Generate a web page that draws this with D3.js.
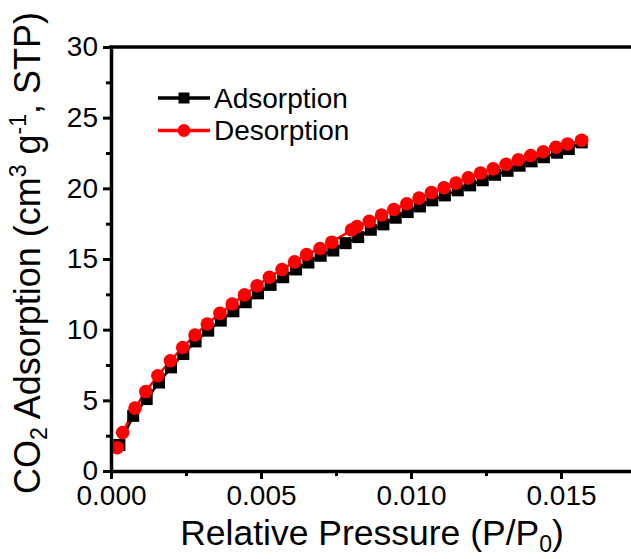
<!DOCTYPE html>
<html>
<head>
<meta charset="utf-8">
<script src="https://cdn.jsdelivr.net/npm/d3@7"></script>
<style>
  body { margin: 0; background: #fff; }
  svg text { font-family: "Liberation Sans", Arial, sans-serif; fill: #000; }
</style>
</head>
<body>
<svg id="chart" width="631" height="559"></svg>
<script>
// adsorption branch (black squares)
var pressureAds = [0.00028, 0.00074, 0.00119, 0.0016, 0.0020, 0.00241, 0.00282, 0.00324, 0.00366, 0.00408,
  0.00449, 0.0049, 0.00532, 0.00574, 0.00617, 0.00658, 0.00699, 0.00741, 0.00782, 0.00824,
  0.00866, 0.00908, 0.00949, 0.00989, 0.0103, 0.01071, 0.01113, 0.01156, 0.01197, 0.01239,
  0.0128, 0.01322, 0.01362, 0.01402, 0.01443, 0.01487, 0.01526, 0.01569];
var uptakeAds = [1.84, 3.90, 5.09, 6.26, 7.33, 8.28, 9.17, 9.93, 10.64, 11.30,
  11.94, 12.57, 13.17, 13.71, 14.26, 14.75, 15.23, 15.60, 16.12, 16.55,
  17.07, 17.45, 17.92, 18.32, 18.72, 19.15, 19.50, 19.86, 20.21, 20.57,
  20.96, 21.24, 21.60, 21.91, 22.20, 22.52, 22.78, 23.25];

// desorption branch (red circles)
var pressureDes = [0.00021, 0.00039, 0.0008, 0.00116, 0.00156, 0.00198, 0.00239, 0.0028, 0.00321, 0.00363,
  0.00404, 0.00445, 0.00487, 0.00528, 0.0057, 0.00612, 0.00652, 0.00697, 0.00736, 0.00802,
  0.0082, 0.00861, 0.00902, 0.00943, 0.00986, 0.01027, 0.01068, 0.0111, 0.0115, 0.01191,
  0.01232, 0.01274, 0.01317, 0.01358, 0.01399, 0.01441, 0.01483, 0.01522, 0.01569];
var uptakeDes = [1.65, 2.72, 4.45, 5.62, 6.74, 7.80, 8.74, 9.62, 10.40, 11.15,
  11.82, 12.46, 13.11, 13.71, 14.26, 14.80, 15.32, 15.74, 16.19, 17.06,
  17.30, 17.66, 18.11, 18.50, 18.91, 19.31, 19.70, 20.04, 20.37, 20.74,
  21.08, 21.38, 21.70, 22.02, 22.32, 22.59, 22.91, 23.14, 23.40];

var xMajor = [0, 0.005, 0.010, 0.015];
var xMinor = [0.0025, 0.0075, 0.0125, 0.0175];
var yMajor = [0, 5, 10, 15, 20, 25, 30];
var yMinor = [2.5, 7.5, 12.5, 17.5, 22.5, 27.5];

var seriesNames = ["Adsorption", "Desorption"];

var plotLeft = 111, plotTop = 47, plotBottom = 471, plotRight = 636;

var x = d3.scaleLinear().domain([0, 0.0175]).range([plotLeft, plotRight]);
var y = d3.scaleLinear().domain([0, 30]).range([plotBottom, plotTop]);

var svg = d3.select("#chart");

var ads = pressureAds.map(function(p, i) { return [p, uptakeAds[i]]; });
var des = pressureDes.map(function(p, i) { return [p, uptakeDes[i]]; });

var line = d3.line()
    .x(function(d) { return x(d[0]); })
    .y(function(d) { return y(d[1]); });

// lines
svg.append("path").datum(ads)
    .attr("d", line).attr("fill", "none")
    .attr("stroke", "#000").attr("stroke-width", 2.5);
svg.append("path").datum(des)
    .attr("d", line).attr("fill", "none")
    .attr("stroke", "#ff0000").attr("stroke-width", 2.5);

// markers
var sq = 12;
svg.selectAll(".sq").data(ads).enter().append("rect")
    .attr("class", "sq")
    .attr("x", function(d) { return x(d[0]) - sq / 2; })
    .attr("y", function(d) { return y(d[1]) - sq / 2; })
    .attr("width", sq).attr("height", sq)
    .attr("fill", "#000");
svg.selectAll(".ci").data(des).enter().append("circle")
    .attr("class", "ci")
    .attr("cx", function(d) { return x(d[0]); })
    .attr("cy", function(d) { return y(d[1]); })
    .attr("r", 6.8)
    .attr("fill", "#ff0000");

// axes
svg.append("g").attr("transform", "translate(0," + plotBottom + ")")
    .call(d3.axisBottom(x).tickValues(xMajor).tickFormat(d3.format(".3f"))
      .tickSizeInner(8).tickSizeOuter(0).tickPadding(6));
svg.append("g").attr("transform", "translate(0," + plotBottom + ")")
    .call(d3.axisBottom(x).tickValues(xMinor).tickFormat("")
      .tickSizeInner(5).tickSizeOuter(0))
    .select(".domain").remove();

svg.append("g").attr("transform", "translate(" + plotLeft + ",0)")
    .call(d3.axisLeft(y).tickValues(yMajor)
      .tickSizeInner(8).tickSizeOuter(0).tickPadding(5));
svg.append("g").attr("transform", "translate(" + plotLeft + ",0)")
    .call(d3.axisLeft(y).tickValues(yMinor).tickFormat("")
      .tickSizeInner(5).tickSizeOuter(0))
    .select(".domain").remove();

svg.selectAll(".domain").attr("stroke", "#000").attr("stroke-width", 3.5);
svg.selectAll(".tick line").attr("stroke", "#000").attr("stroke-width", 3);
svg.selectAll(".tick text").attr("font-size", 28)
    .attr("font-family", "Liberation Sans, Arial, sans-serif").attr("fill", "#000");

// top frame
svg.append("line")
    .attr("x1", plotLeft - 1.75).attr("x2", plotRight)
    .attr("y1", plotTop).attr("y2", plotTop)
    .attr("stroke", "#000").attr("stroke-width", 3.5);

// axis titles
var xt = svg.append("text")
    .attr("x", 372).attr("y", 545)
    .attr("text-anchor", "middle").attr("font-size", 35.5);
xt.append("tspan").text("Relative Pressure (P/P");
xt.append("tspan").attr("font-size", 23).attr("dy", 7).text("0");
xt.append("tspan").attr("dy", -7).text(")");

var yt = svg.append("text")
    .attr("transform", "translate(40,253) rotate(-90)")
    .attr("text-anchor", "middle").attr("font-size", 36);
yt.append("tspan").text("CO");
yt.append("tspan").attr("font-size", 23).attr("dy", 7).text("2");
yt.append("tspan").attr("dy", -7).text(" Adsorption (cm");
yt.append("tspan").attr("font-size", 23).attr("dy", -14).text("3");
yt.append("tspan").attr("dy", 14).text(" g");
yt.append("tspan").attr("font-size", 23).attr("dy", -14).text("-1");
yt.append("tspan").attr("dy", 14).text(", STP)");

// legend
var legend = svg.append("g");
var rows = legend.selectAll("g").data(seriesNames).enter().append("g")
    .attr("transform", function(d, i) { return "translate(0," + (98 + i * 32.5) + ")"; });
rows.append("line")
    .attr("x1", 158).attr("x2", 210).attr("y1", 0).attr("y2", 0)
    .attr("stroke", function(d, i) { return i ? "#ff0000" : "#000"; })
    .attr("stroke-width", 3.5);
rows.filter(function(d, i) { return i === 0; }).append("rect")
    .attr("x", 184 - 5.5).attr("y", -5.5).attr("width", 11).attr("height", 11)
    .attr("fill", "#000");
rows.filter(function(d, i) { return i === 1; }).append("circle")
    .attr("cx", 184).attr("cy", 0).attr("r", 6.5).attr("fill", "#ff0000");
rows.append("text")
    .attr("x", 214).attr("y", 9.5)
    .attr("font-size", 28)
    .text(function(d) { return d; });
</script>
</body>
</html>
